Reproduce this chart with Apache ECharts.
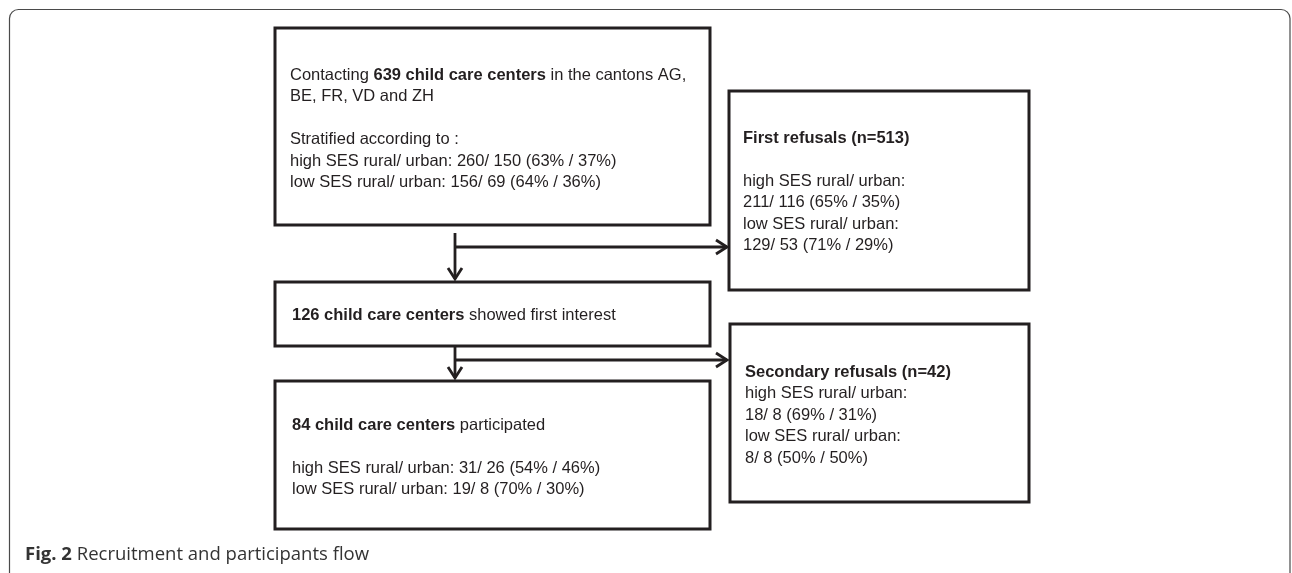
<!DOCTYPE html>
<html>
<head>
<meta charset="UTF-8" />
<title>Recruitment and participants flow</title>
<script src="https://cdn.jsdelivr.net/npm/echarts@6/dist/echarts.min.js"></script>
<style>
  html, body { margin: 0; padding: 0; background: #fff; }
  #chart { width: 1292px; height: 573px; }
</style>
</head>
<body>
<div id="chart"></div>
<script>
// box texts ({b|...} = bold)
var contactLines = [
  'Contacting {b|639 child care centers} in the cantons AG,',
  'BE, FR, VD and ZH',
  '',
  'Stratified according to :',
  'high SES rural/ urban: 260/ 150 (63% / 37%)',
  'low SES rural/ urban: 156/ 69 (64% / 36%)'
];
var firstRefusalLines = [
  '{b|First refusals (n=513)}',
  '',
  'high SES rural/ urban:',
  '211/ 116 (65% / 35%)',
  'low SES rural/ urban:',
  '129/ 53 (71% / 29%)'
];
var interestLines = [
  '{b|126 child care centers} showed first interest'
];
var secondRefusalLines = [
  '{b|Secondary refusals (n=42)}',
  'high SES rural/ urban:',
  '18/ 8 (69% / 31%)',
  'low SES rural/ urban:',
  '8/ 8 (50% / 50%)'
];
var participatedLines = [
  '{b|84 child care centers} participated',
  '',
  'high SES rural/ urban: 31/ 26 (54% / 46%)',
  'low SES rural/ urban: 19/ 8 (70% / 30%)'
];
var captionText = '{b|Fig. 2} Recruitment and participants flow';

// layout of each box: rect [x, y, w, h], text start
var layout = [
  { lines: contactLines,       box: [275, 28, 435, 197],  tx: 290, ty: 75 },
  { lines: firstRefusalLines,  box: [729, 91, 300, 199],  tx: 743, ty: 138 },
  { lines: interestLines,      box: [275, 282, 435, 64],  tx: 292, ty: 315 },
  { lines: secondRefusalLines, box: [730, 324, 299, 178], tx: 745, ty: 372 },
  { lines: participatedLines,  box: [275, 381, 435, 148], tx: 292, ty: 425 }
];
// arrows: vertical trunk + side branch
var arrows = [
  { x: 455, y1: 233, y2: 281, branchY: 247, branchX2: 728 },
  { x: 455, y1: 346, y2: 380, branchY: 360, branchX2: 728 }
];

var ink = '#231f20';
var fontFam = '"Liberation Sans", Arial, sans-serif';
var fs = 16.5;
var lineH = 21.5;

var elements = [];

// outer frame
elements.push({
  type: 'rect',
  shape: { x: 9.5, y: 9.5, width: 1280.5, height: 620, r: [9, 9, 0, 0] },
  style: { fill: 'none', stroke: '#4a4a4a', lineWidth: 1.2 }
});

layout.forEach(function (b) {
  elements.push({
    type: 'rect',
    shape: { x: b.box[0], y: b.box[1], width: b.box[2], height: b.box[3] },
    style: { fill: '#fff', stroke: ink, lineWidth: 3 }
  });
  b.lines.forEach(function (t, i) {
    if (!t) return;
    elements.push({
      type: 'text',
      style: {
        text: t, x: b.tx, y: b.ty + i * lineH,
        verticalAlign: 'middle', align: 'left',
        fontSize: fs, fontFamily: fontFam, fill: ink,
        rich: { b: { fontWeight: 'bold', fontSize: fs, fontFamily: fontFam, fill: ink } }
      }
    });
  });
});

var arrowStyle = { stroke: ink, lineWidth: 2.8, fill: 'none' };
arrows.forEach(function (a) {
  elements.push({ type: 'polyline', shape: { points: [[a.x, a.y1], [a.x, a.y2 - 2]] }, style: arrowStyle });
  elements.push({ type: 'polyline', shape: { points: [[a.x - 7, a.y2 - 13], [a.x, a.y2 - 2], [a.x + 7, a.y2 - 13]] }, style: arrowStyle });
  elements.push({ type: 'polyline', shape: { points: [[a.x, a.branchY], [a.branchX2 - 1, a.branchY]] }, style: arrowStyle });
  elements.push({ type: 'polyline', shape: { points: [[a.branchX2 - 12, a.branchY - 7], [a.branchX2 - 1, a.branchY], [a.branchX2 - 12, a.branchY + 7]] }, style: arrowStyle });
});

// caption
elements.push({
  type: 'text',
  style: {
    text: captionText, x: 25, y: 555, verticalAlign: 'middle',
    fontSize: 18.5, fontFamily: '"Open Sans", sans-serif', fill: '#333',
    rich: { b: { fontWeight: 'bold', fontSize: 18.5, fontFamily: '"Open Sans", sans-serif', fill: '#333' } }
  }
});

var myChart = echarts.init(document.getElementById('chart'));
myChart.setOption({
  animation: false,
  backgroundColor: '#fff',
  graphic: { elements: elements }
});
</script>
</body>
</html>
